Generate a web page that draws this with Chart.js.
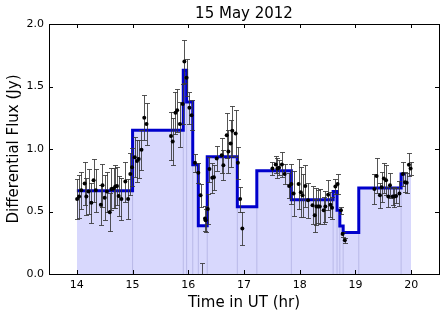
<!DOCTYPE html>
<html>
<head>
<meta charset="utf-8">
<script src="https://cdn.jsdelivr.net/npm/chart.js@4"></script>
<style>
  html, body { margin: 0; padding: 0; background: #fff; }
</style>
</head>
<body>
<canvas id="myChart" width="446" height="319"></canvas>
<script>
// bayesian block edges (hr) and block levels (Jy)
const blockEdges = [14.0, 15.0, 15.91, 15.97, 16.08, 16.18, 16.34, 16.88, 17.23, 17.85, 18.60, 18.67, 18.72, 18.78, 19.06, 19.82, 20.0];
const blockFlux = [0.667, 1.15, 1.63, 1.376, 0.875, 0.387, 0.939, 0.539, 0.827, 0.595, 0.661, 0.51, 0.384, 0.333, 0.688, 0.80];
const lineEnd = 19.9;

// measurements
const obsTime = [14.005, 14.04, 14.08, 14.14, 14.17, 14.21, 14.26, 14.30, 14.34, 14.43, 14.46, 14.50, 14.54, 14.59, 14.62, 14.66, 14.69, 14.72, 14.75, 14.80,
  14.87, 14.92, 14.96, 14.99, 15.04, 15.08, 15.11, 15.16, 15.21, 15.25, 15.69, 15.72, 15.77, 15.80, 15.85, 15.90, 15.93, 15.97, 16.02, 16.06,
  16.12, 16.18, 16.22, 16.25, 16.30, 16.31, 16.35, 16.38, 16.43, 16.46, 16.51, 16.60, 16.63, 16.69, 16.72, 16.76, 16.79, 16.85, 16.89, 16.93,
  16.97, 17.51, 17.57, 17.60, 17.63, 17.68, 17.73, 17.81, 17.85, 17.89, 17.98, 18.02, 18.05, 18.10, 18.15, 18.23, 18.27, 18.30, 18.33, 18.36,
  18.43, 18.46, 18.51, 18.55, 18.58, 18.64, 18.68, 18.74, 18.77, 18.81, 19.34, 19.38, 19.44, 19.47, 19.51, 19.55, 19.59, 19.62, 19.67, 19.70,
  19.73, 19.79, 19.85, 19.89, 19.92, 19.96, 19.99];
const obsFlux = [0.60, 0.62, 0.67, 0.725, 0.62, 0.66, 0.57, 0.75, 0.67, 0.555, 0.71, 0.61, 0.66, 0.495, 0.68, 0.685, 0.70, 0.705, 0.625, 0.60,
  0.74, 0.60, 0.80, 0.855, 0.935, 0.905, 0.92, 0.995, 1.25, 1.20, 1.105, 1.06, 1.29, 1.31, 1.20, 1.36, 1.70, 1.57, 1.33, 1.27,
  0.89, 0.81, 0.63, -0.08, 0.445, 0.43, 0.52, 0.84, 0.77, 0.775, 0.925, 0.95, 0.87, 1.11, 0.98, 1.045, 1.147, 1.125, 0.89, 0.60,
  0.365, 0.845, 0.877, 0.845, 0.85, 0.877, 0.80, 0.705, 0.72, 0.645, 0.72, 0.655, 0.63, 0.705, 0.59, 0.55, 0.47, 0.54, 0.54, 0.54,
  0.51, 0.54, 0.635, 0.555, 0.53, 0.70, 0.72, 0.51, 0.32, 0.27, 0.68, 0.785, 0.63, 0.695, 0.765, 0.75, 0.62, 0.71, 0.62, 0.62,
  0.625, 0.645, 0.80, 0.735, 0.73, 0.875, 0.845];
const obsErr = [0.16, 0.17, 0.15, 0.17, 0.15, 0.18, 0.16, 0.17, 0.17, 0.16, 0.17, 0.18, 0.16, 0.15, 0.17, 0.16, 0.17, 0.15, 0.16, 0.17,
  0.16, 0.16, 0.17, 0.15, 0.16, 0.17, 0.15, 0.16, 0.18, 0.17, 0.19, 0.19, 0.17, 0.17, 0.18, 0.16, 0.17, 0.15, 0.13, 0.12,
  0.07, 0.08, 0.09, 0.17, 0.10, 0.09, 0.12, 0.10, 0.12, 0.10, 0.10, 0.14, 0.12, 0.18, 0.17, 0.19, 0.20, 0.19, 0.13, 0.10,
  0.13, 0.05, 0.07, 0.08, 0.06, 0.10, 0.08, 0.10, 0.16, 0.18, 0.20, 0.20, 0.17, 0.17, 0.14, 0.15, 0.13, 0.15, 0.13, 0.14,
  0.11, 0.12, 0.12, 0.10, 0.09, 0.06, 0.08, 0.03, 0.02, 0.02, 0.12, 0.14, 0.10, 0.12, 0.12, 0.12, 0.08, 0.10, 0.07, 0.08,
  0.06, 0.10, 0.10, 0.08, 0.08, 0.09, 0.05];

const xTicks = [14, 15, 16, 17, 18, 19, 20];
const yTicks = [0.0, 0.5, 1.0, 1.5, 2.0];

const FONT = 'DejaVu Sans';

let stepFill = blockFlux.map((v, i) => ({ x: blockEdges[i], y: v }));
stepFill.push({ x: blockEdges[blockEdges.length - 1], y: blockFlux[blockFlux.length - 1] });
let stepLine = blockFlux.map((v, i) => ({ x: blockEdges[i], y: v }));
stepLine.push({ x: lineEnd, y: blockFlux[blockFlux.length - 1] });

// faint edges between the blocks
let edgeLines = [];
for (let i = 1; i < blockFlux.length; i++) {
  edgeLines.push({ x: blockEdges[i], y: 0 });
  edgeLines.push({ x: blockEdges[i], y: Math.min(blockFlux[i - 1], blockFlux[i]) });
  edgeLines.push({ x: blockEdges[i], y: null });
}

const points = obsTime.map((t, i) => ({ x: t, y: obsFlux[i] }));

const errorBars = {
  id: 'errorBars',
  beforeDatasetDraw(chart, args) {
    if (args.index !== 0) return;
    const { ctx, scales: { x, y }, chartArea } = chart;
    ctx.save();
    ctx.beginPath();
    ctx.rect(chartArea.left, chartArea.top, chartArea.width, chartArea.height);
    ctx.clip();
    ctx.strokeStyle = 'rgba(55,55,55,0.85)';
    ctx.lineWidth = 1;
    ctx.beginPath();
    for (let i = 0; i < obsTime.length; i++) {
      const px = Math.round(x.getPixelForValue(obsTime[i])) + 0.5;
      const top = Math.round(y.getPixelForValue(obsFlux[i] + obsErr[i])) + 0.5;
      const bot = Math.round(y.getPixelForValue(obsFlux[i] - obsErr[i])) + 0.5;
      ctx.moveTo(px, top); ctx.lineTo(px, bot);
      ctx.moveTo(px - 2.5, top); ctx.lineTo(px + 2.5, top);
      ctx.moveTo(px - 2.5, bot); ctx.lineTo(px + 2.5, bot);
    }
    ctx.stroke();
    ctx.restore();
  }
};

// matplotlib style frame with inward ticks
const frame = {
  id: 'frame',
  afterDraw(chart) {
    const { ctx, scales: { x, y }, chartArea: a } = chart;
    ctx.save();
    ctx.strokeStyle = '#000';
    ctx.lineWidth = 1;
    ctx.beginPath();
    xTicks.forEach(v => {
      const px = Math.round(x.getPixelForValue(v)) + 0.5;
      ctx.moveTo(px, a.bottom); ctx.lineTo(px, a.bottom - 4);
      ctx.moveTo(px, a.top); ctx.lineTo(px, a.top + 4);
    });
    yTicks.forEach(v => {
      const py = Math.round(y.getPixelForValue(v)) + 0.5;
      ctx.moveTo(a.left, py); ctx.lineTo(a.left + 4, py);
      ctx.moveTo(a.right, py); ctx.lineTo(a.right - 4, py);
    });
    ctx.stroke();
    ctx.strokeRect(Math.round(a.left) + 0.5, Math.round(a.top) + 0.5, Math.round(a.width), Math.round(a.height));
    ctx.restore();
  }
};

new Chart(document.getElementById('myChart'), {
  type: 'line',
  data: {
    datasets: [
      {
        type: 'scatter',
        data: points,
        pointRadius: 2,
        pointBackgroundColor: '#000',
        pointBorderColor: '#000',
        pointBorderWidth: 0
      },
      {
        data: stepLine,
        stepped: true,
        borderColor: '#0000cc',
        borderWidth: 3,
        pointRadius: 0,
        fill: false
      },
      {
        data: edgeLines,
        borderColor: 'rgba(160,160,215,0.55)',
        borderWidth: 1,
        pointRadius: 0,
        spanGaps: false,
        fill: false
      },
      {
        data: stepFill,
        stepped: true,
        borderWidth: 0,
        borderColor: 'rgba(0,0,0,0)',
        backgroundColor: '#d8d8fd',
        pointRadius: 0,
        fill: 'origin'
      }
    ]
  },
  options: {
    responsive: false,
    devicePixelRatio: 1,
    animation: false,
    layout: { padding: { left: 0, right: 7, top: 0, bottom: 0 } },
    plugins: {
      legend: { display: false },
      tooltip: { enabled: false },
      title: {
        display: true,
        text: '15 May 2012',
        fullSize: false,
        color: '#000',
        font: { family: FONT, size: 15, weight: 'normal' },
        padding: { top: 5, bottom: 1 }
      }
    },
    scales: {
      x: {
        type: 'linear',
        min: 13.5,
        max: 20.5,
        afterBuildTicks: s => { s.ticks = xTicks.map(v => ({ value: v })); },
        afterFit: s => { s.height = 45; },
        grid: { display: false, drawTicks: false },
        border: { display: false },
        ticks: { color: '#000', font: { family: FONT, size: 11 }, padding: 5, maxRotation: 0, callback: v => String(v) },
        title: { display: true, text: 'Time in UT (hr)', color: '#000', font: { family: FONT, size: 15 }, padding: { top: 0, bottom: 7 } }
      },
      y: {
        min: 0,
        max: 2,
        afterBuildTicks: s => { s.ticks = yTicks.map(v => ({ value: v })); },
        afterFit: s => { s.width = 49; },
        grid: { display: false, drawTicks: false },
        border: { display: false },
        ticks: { color: '#000', font: { family: FONT, size: 11 }, padding: 5, callback: v => v.toFixed(1) },
        title: { display: true, text: 'Differential Flux (Jy)', color: '#000', font: { family: FONT, size: 15 }, padding: { top: 5, bottom: 0 } }
      }
    }
  },
  plugins: [errorBars, frame]
});
</script>
</body>
</html>
